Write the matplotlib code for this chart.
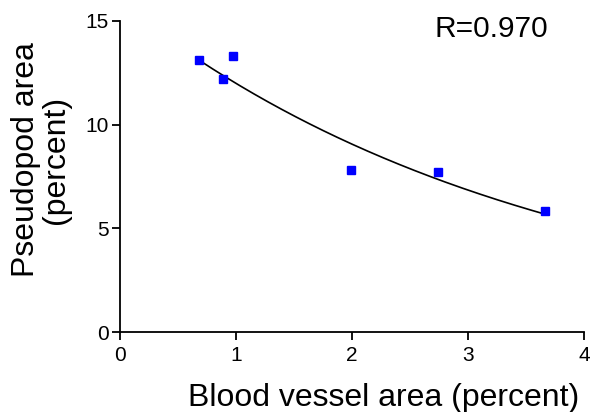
import numpy as np
import matplotlib
matplotlib.use("Agg")
import matplotlib.pyplot as plt

plt.rcParams['font.family'] = ['Liberation Sans', 'DejaVu Sans']

# data
vessel_area = [0.68, 0.89, 0.97, 1.99, 2.74, 3.66]
pseudopod_area = [13.1, 12.2, 13.3, 7.8, 7.7, 5.85]
x_ticks = [0, 1, 2, 3, 4]
y_ticks = [0, 5, 10, 15]

# exponential decay fit through the points (log-linear)
b, ln_a = np.polyfit(vessel_area, np.log(pseudopod_area), 1)
xs = np.linspace(min(vessel_area), max(vessel_area) - 0.02, 200)
ys = np.exp(ln_a + b * xs)

fig = plt.figure(figsize=(5.91, 4.12), dpi=100)
ax = fig.add_axes([120 / 591, 80 / 412, 464 / 591, 311 / 412])

ax.plot(xs, ys, color='black', lw=1.2)
ax.plot(vessel_area, pseudopod_area, 's', color='#0000ff', ms=5.5, mec='#0000ff')

ax.set_xlim(0, 4)
ax.set_ylim(0, 15)
ax.set_xticks(x_ticks)
ax.set_yticks(y_ticks)
for s in ['top', 'right']:
    ax.spines[s].set_visible(False)
for s in ['left', 'bottom']:
    ax.spines[s].set_linewidth(1.3)
ax.tick_params(length=6, width=1.3, labelsize=15)
ax.tick_params(axis='x', pad=4)
ax.tick_params(axis='y', pad=2)

ax.set_xlabel('Blood vessel area (percent)', fontsize=23)
ax.xaxis.set_label_coords(0.569, -0.163)
ax.set_ylabel('Pseudopod area\n(percent)', fontsize=23, linespacing=1.0)
ax.yaxis.set_label_coords(-0.105, 0.553)
ax.text(3.2, 14.6, 'R=0.970', fontsize=21.5, ha='center', va='center')

fig.savefig('out.png', dpi=100)
